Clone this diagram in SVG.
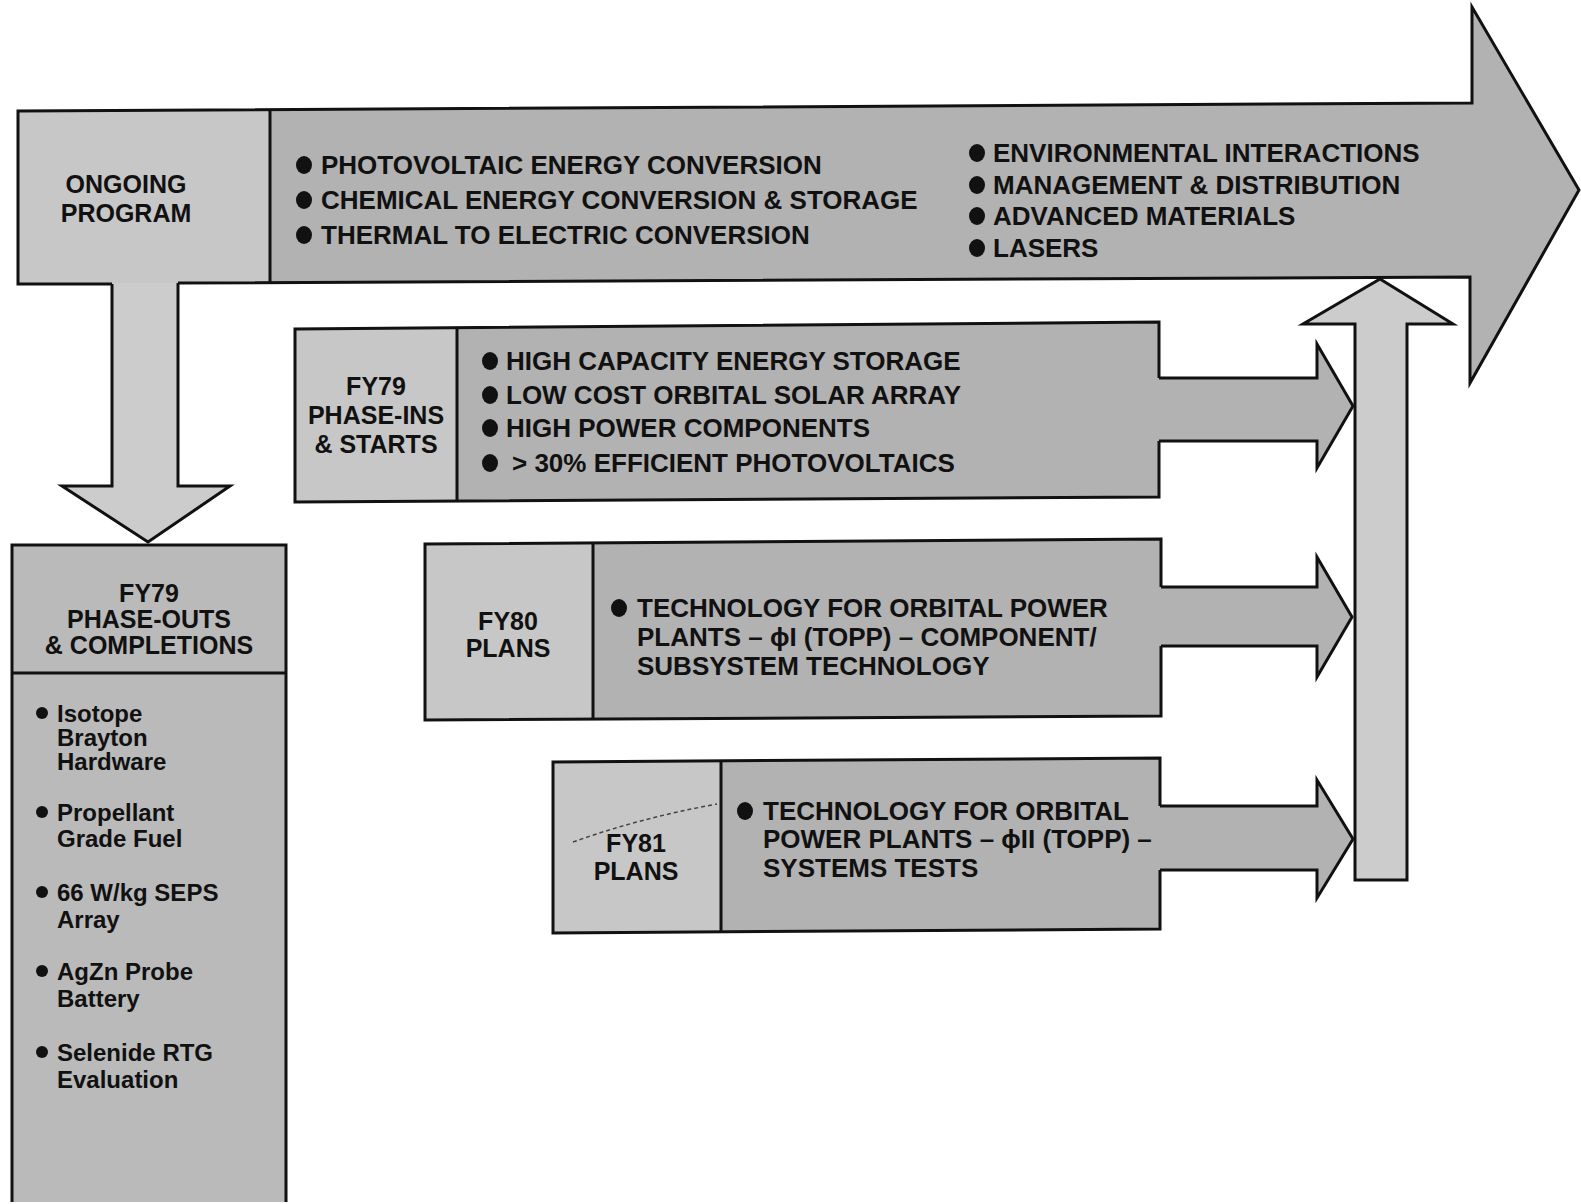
<svg xmlns="http://www.w3.org/2000/svg" width="1581" height="1204" viewBox="0 0 1581 1204">
<style>
.t{font-family:"Liberation Sans",Arial,Helvetica,sans-serif;font-weight:bold;fill:#111}
.b26{font-size:26px}
.h25{font-size:25px;text-anchor:middle}
.s24{font-size:24px}
.ol{fill:none;stroke:#111;stroke-width:3;stroke-linejoin:miter}
.ln{stroke:#111;stroke-width:3}
.dark{fill:#b2b2b2}
.mid{fill:#bababa}
.light{fill:#c7c7c7}
.arrow{fill:#cccccc}
.dot{fill:#111}
</style>
<defs>
<ellipse id="bul" rx="8" ry="9" class="dot"/>
<circle id="sbul" r="6" class="dot"/>
</defs>
<rect x="0" y="0" width="1581" height="1204" fill="#fff"/>

<g id="ongoing-program">
<polygon class="dark" points="18,111 1472,103 1472,7 1579,190 1470,383 1470,277 18,284"/>
<polygon class="light" points="18,111 270,110 270,283 18,284"/>
<path class="ol" d="M112,284 L18,284 L18,111 L1472,103 L1472,7 L1579,190 L1470,383 L1470,277 L178,283"/>
<line class="ln" x1="270" y1="110" x2="270" y2="283"/>
<text class="t h25" x="126" y="193">ONGOING</text>
<text class="t h25" x="126" y="222">PROGRAM</text>
<use href="#bul" x="304" y="165"/>
<use href="#bul" x="304" y="200"/>
<use href="#bul" x="304" y="235"/>
<text class="t b26" x="321" y="174">PHOTOVOLTAIC ENERGY CONVERSION</text>
<text class="t b26" x="321" y="209">CHEMICAL ENERGY CONVERSION &amp; STORAGE</text>
<text class="t b26" x="321" y="244">THERMAL TO ELECTRIC CONVERSION</text>
<use href="#bul" x="977" y="153"/>
<use href="#bul" x="977" y="185"/>
<use href="#bul" x="977" y="216"/>
<use href="#bul" x="977" y="248"/>
<text class="t b26" x="993" y="162">ENVIRONMENTAL INTERACTIONS</text>
<text class="t b26" x="993" y="194">MANAGEMENT &amp; DISTRIBUTION</text>
<text class="t b26" x="993" y="225">ADVANCED MATERIALS</text>
<text class="t b26" x="993" y="257">LASERS</text>
</g>

<g id="fy79-phase-outs">
<rect class="mid" x="12" y="545" width="274" height="657"/>
<path class="ol" d="M12,1202 L12,545 L286,545 L286,1202"/>
<line class="ln" x1="12" y1="673" x2="286" y2="673"/>
<text class="t h25" x="149" y="602">FY79</text>
<text class="t h25" x="149" y="628">PHASE-OUTS</text>
<text class="t h25" x="149" y="654">&amp; COMPLETIONS</text>
<use href="#sbul" x="42" y="713"/>
<text class="t s24" x="57" y="722">Isotope</text>
<text class="t s24" x="57" y="746">Brayton</text>
<text class="t s24" x="57" y="770">Hardware</text>
<use href="#sbul" x="42" y="812"/>
<text class="t s24" x="57" y="821">Propellant</text>
<text class="t s24" x="57" y="847">Grade Fuel</text>
<use href="#sbul" x="42" y="892"/>
<text class="t s24" x="57" y="901">66 W/kg SEPS</text>
<text class="t s24" x="57" y="928">Array</text>
<use href="#sbul" x="42" y="971"/>
<text class="t s24" x="57" y="980">AgZn Probe</text>
<text class="t s24" x="57" y="1007">Battery</text>
<use href="#sbul" x="42" y="1052"/>
<text class="t s24" x="57" y="1061">Selenide RTG</text>
<text class="t s24" x="57" y="1088">Evaluation</text>
</g>

<g id="fy79-phase-ins">
<polygon class="dark" points="295,329 1159,322 1159,497 295,502"/>
<polygon class="light" points="295,329 457,328 457,501 295,502"/>
<path class="ol" d="M1159,378 L1159,322 L295,329 L295,502 L1159,497 L1159,441"/>
<line class="ln" x1="457" y1="328" x2="457" y2="501"/>
<text class="t h25" x="376" y="395">FY79</text>
<text class="t h25" x="376" y="424">PHASE-INS</text>
<text class="t h25" x="376" y="453">&amp; STARTS</text>
<use href="#bul" x="490" y="361"/>
<use href="#bul" x="490" y="395"/>
<use href="#bul" x="490" y="428"/>
<use href="#bul" x="490" y="463"/>
<text class="t b26" x="506" y="370">HIGH CAPACITY ENERGY STORAGE</text>
<text class="t b26" x="506" y="404">LOW COST ORBITAL SOLAR ARRAY</text>
<text class="t b26" x="506" y="437">HIGH POWER COMPONENTS</text>
<text class="t b26" x="512" y="472">&gt; 30% EFFICIENT PHOTOVOLTAICS</text>
</g>

<g id="fy80-plans">
<polygon class="dark" points="425,544 1161,539 1161,716 425,720"/>
<polygon class="light" points="425,544 593,543 593,719 425,720"/>
<path class="ol" d="M1161,587 L1161,539 L425,544 L425,720 L1161,716 L1161,646"/>
<line class="ln" x1="593" y1="543" x2="593" y2="719"/>
<text class="t h25" x="508" y="630">FY80</text>
<text class="t h25" x="508" y="657">PLANS</text>
<use href="#bul" x="619" y="608"/>
<text class="t b26" x="637" y="617">TECHNOLOGY FOR ORBITAL POWER</text>
<text class="t b26" x="637" y="646">PLANTS – ϕI (TOPP) – COMPONENT/</text>
<text class="t b26" x="637" y="675">SUBSYSTEM TECHNOLOGY</text>
</g>

<g id="fy81-plans">
<polygon class="dark" points="553,762 1160,758 1160,929 553,933"/>
<polygon class="light" points="553,762 721,761 721,933 553,933"/>
<path class="ol" d="M1160,806 L1160,758 L553,762 L553,933 L1160,929 L1160,870"/>
<line class="ln" x1="721" y1="761" x2="721" y2="933"/>
<path d="M573,842 Q640,818 717,804" fill="none" stroke="#444" stroke-width="1.5" stroke-dasharray="4 3"/>
<text class="t h25" x="636" y="852">FY81</text>
<text class="t h25" x="636" y="880">PLANS</text>
<use href="#bul" x="745" y="811"/>
<text class="t b26" x="763" y="820">TECHNOLOGY FOR ORBITAL</text>
<text class="t b26" x="763" y="848">POWER PLANTS – ϕII (TOPP) –</text>
<text class="t b26" x="763" y="877">SYSTEMS TESTS</text>
</g>

<g id="connectors">
<polygon class="arrow" points="112,283 178,283 178,486 230,486 148,542 62,486 112,486"/>
<path class="ol" d="M112,284 L112,486 L62,486 L148,542 L230,486 L178,486 L178,283"/>
<polygon class="dark" points="1159,378 1317,378 1317,344 1353,406 1317,468 1317,441 1159,441"/>
<path class="ol" d="M1159,378 L1317,378 L1317,344 L1353,406 L1317,468 L1317,441 L1159,441"/>
<polygon class="dark" points="1161,587 1317,587 1317,557 1352,617 1317,677 1317,646 1161,646"/>
<path class="ol" d="M1161,587 L1317,587 L1317,557 L1352,617 L1317,677 L1317,646 L1161,646"/>
<polygon class="dark" points="1160,806 1317,806 1317,780 1353,839 1317,898 1317,870 1160,870"/>
<path class="ol" d="M1160,806 L1317,806 L1317,780 L1353,839 L1317,898 L1317,870 L1160,870"/>
<polygon class="arrow" points="1355,880 1355,324 1303,324 1380,279 1453,324 1407,324 1407,880"/>
<path class="ol" d="M1355,880 L1355,324 L1303,324 L1380,279 L1453,324 L1407,324 L1407,880 Z"/>
</g>
</svg>
